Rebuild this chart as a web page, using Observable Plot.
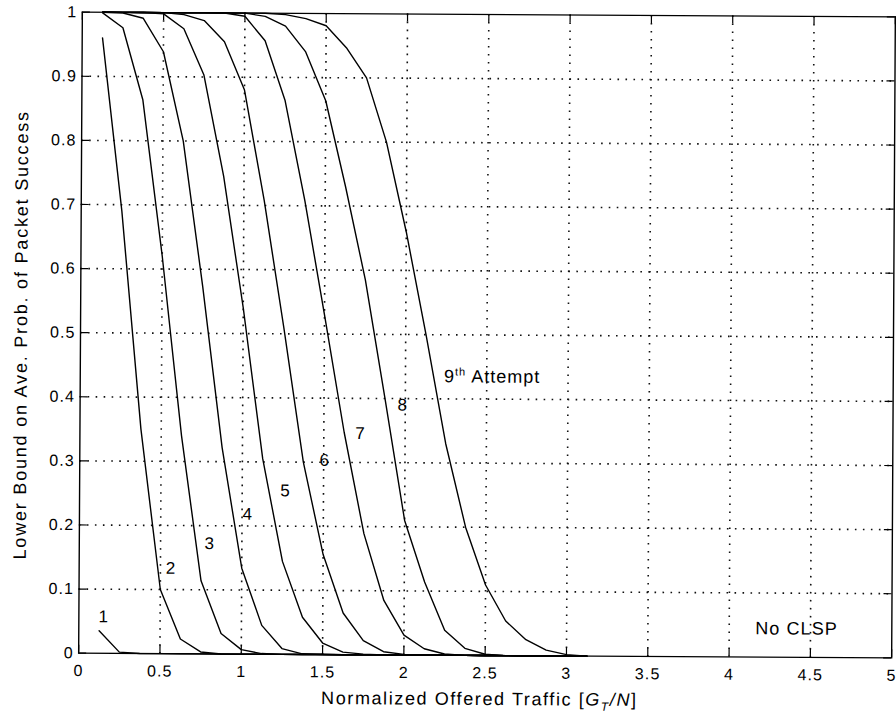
<!DOCTYPE html>
<html>
<head>
<meta charset="utf-8">
<script src="https://cdn.jsdelivr.net/npm/d3@7"></script>
<script src="https://cdn.jsdelivr.net/npm/@observablehq/plot@0.6"></script>
<style>
  html, body { margin: 0; padding: 0; background: #fff; }
  #chart { width: 896px; height: 717px; overflow: hidden; }
  #chart svg { transform: rotate(0.33deg); transform-origin: 486px 335px; }
</style>
</head>
<body>
<div id="chart"></div>
<script>
// Normalized offered traffic G_T/N at which each curve is sampled
const traffic = [0.125, 0.25, 0.375, 0.5, 0.625, 0.75, 0.875, 1, 1.125, 1.25, 1.375, 1.5, 1.625,
                 1.75, 1.875, 2, 2.125, 2.25, 2.375, 2.5, 2.625, 2.75, 2.875, 3, 3.125];

// Lower bound on average probability of packet success, one list per attempt
const attempt1 = [0.035, 0.002, 0, 0, 0, 0, 0, 0, 0, 0, 0, 0, 0, 0, 0, 0, 0, 0, 0, 0, 0, 0, 0, 0, 0];
const attempt2 = [0.96, 0.69, 0.35, 0.10, 0.023, 0.003, 0, 0, 0, 0, 0, 0, 0, 0, 0, 0, 0, 0, 0, 0, 0, 0, 0, 0, 0];
const attempt3 = [0.999, 0.976, 0.864, 0.62, 0.34, 0.114, 0.032, 0.007, 0.001, 0, 0, 0, 0, 0, 0, 0, 0, 0, 0, 0, 0, 0, 0, 0, 0];
const attempt4 = [1, 0.999, 0.991, 0.939, 0.80, 0.573, 0.322, 0.134, 0.045, 0.009, 0.001, 0, 0, 0, 0, 0, 0, 0, 0, 0, 0, 0, 0, 0, 0];
const attempt5 = [1, 1, 1, 0.998, 0.975, 0.903, 0.745, 0.54, 0.305, 0.145, 0.058, 0.018, 0.004, 0.001, 0, 0, 0, 0, 0, 0, 0, 0, 0, 0, 0];
const attempt6 = [1, 1, 1, 1, 0.997, 0.988, 0.955, 0.88, 0.708, 0.51, 0.30, 0.156, 0.065, 0.022, 0.005, 0.001, 0, 0, 0, 0, 0, 0, 0, 0, 0];
const attempt7 = [1, 1, 1, 1, 1, 1, 1, 0.995, 0.957, 0.864, 0.708, 0.53, 0.347, 0.189, 0.085, 0.031, 0.01, 0.002, 0, 0, 0, 0, 0, 0, 0];
const attempt8 = [1, 1, 1, 1, 1, 1, 1, 1, 0.995, 0.98, 0.94, 0.864, 0.73, 0.585, 0.40, 0.21, 0.114, 0.039, 0.011, 0.002, 0, 0, 0, 0, 0];
const attempt9 = [1, 1, 1, 1, 1, 1, 1, 1, 1, 0.998, 0.992, 0.981, 0.947, 0.90, 0.80, 0.66, 0.50, 0.33, 0.20, 0.11, 0.054, 0.025, 0.009, 0.002, 0];

// Curve annotations
const curveLabelText = ["1", "2", "3", "4", "5", "6", "7", "8"];
const curveLabelX = [0.154, 0.566, 0.803, 1.035, 1.266, 1.507, 1.726, 1.985];
const curveLabelY = [0.057, 0.133, 0.172, 0.218, 0.255, 0.303, 0.345, 0.390];
const noteText = ["No CLSP"];
const noteX = [4.16];
const noteY = [0.0445];

// Axis ticks
const xTicks = [0, 0.5, 1, 1.5, 2, 2.5, 3, 3.5, 4, 4.5, 5];
const xTickLabels = ["0", "0.5", "1", "1.5", "2", "2.5", "3", "3.5", "4", "4.5", "5"];
const yTicks = [0, 0.1, 0.2, 0.3, 0.4, 0.5, 0.6, 0.7, 0.8, 0.9, 1];
const yTickLabels = ["0", "0.1", "0.2", "0.3", "0.4", "0.5", "0.6", "0.7", "0.8", "0.9", "1"];

const series = [attempt1, attempt2, attempt3, attempt4, attempt5, attempt6, attempt7, attempt8, attempt9];
const rows = series.flatMap((vals, i) => vals.map((p, j) => ({attempt: i + 1, traffic: traffic[j], p})));
const curveLabels = curveLabelText.map((t, i) => ({t, x: curveLabelX[i], y: curveLabelY[i]}));
const notes = noteText.map((t, i) => ({t, x: noteX[i], y: noteY[i]}));

const W = 896, H = 717;
const margin = {top: 14, right: 3, bottom: 62, left: 80};
const frameW = W - margin.left - margin.right;
const frameH = H - margin.top - margin.bottom;
const tickLen = 8;
const FONT = "'Liberation Sans', Arial, Helvetica, sans-serif";

const grid = {stroke: "#111", strokeWidth: 1.6, strokeDasharray: "1.6,6.4"};
const ticks = {stroke: "#000", strokeWidth: 1.2};

const chart = Plot.plot({
  width: W,
  height: H,
  marginTop: margin.top,
  marginRight: margin.right,
  marginBottom: margin.bottom,
  marginLeft: margin.left,
  x: {domain: [0, 5], label: null},
  y: {domain: [0, 1], label: null},
  style: {fontFamily: FONT, fontSize: "16px", color: "#000", background: "#fff", overflow: "visible", letterSpacing: "1.1px"},
  marks: [
    Plot.ruleX(xTicks.slice(1, -1), {x: d => d, ...grid}),
    Plot.ruleY(yTicks.slice(1, -1), {y: d => d, ...grid}),
    Plot.tickX(xTicks, {x: d => d, insetTop: frameH - tickLen, ...ticks}),
    Plot.tickX(xTicks, {x: d => d, insetBottom: frameH - tickLen, ...ticks}),
    Plot.tickY(yTicks, {y: d => d, insetRight: frameW - tickLen, ...ticks}),
    Plot.tickY(yTicks, {y: d => d, insetLeft: frameW - tickLen, ...ticks}),
    Plot.axisX(xTicks, {tickSize: 0, tickPadding: 11.5, label: null, tickFormat: (d, i) => xTickLabels[i]}),
    Plot.axisY(yTicks, {tickSize: 0, tickPadding: 5, label: null, tickFormat: (d, i) => yTickLabels[i]}),
    Plot.line(rows, {x: "traffic", y: "p", z: "attempt", stroke: "#000", strokeWidth: 1.4, strokeLinejoin: "round"}),
    Plot.frame({stroke: "#000", strokeWidth: 1.4}),
    Plot.text(curveLabels, {x: "x", y: "y", text: "t", fontSize: 17, textAnchor: "middle", lineAnchor: "middle", fill: "#000"}),
    Plot.text(notes, {x: "x", y: "y", text: "t", fontSize: 18, textAnchor: "start", lineAnchor: "middle", fill: "#000"})
  ]
});

document.getElementById("chart").append(chart);

// Titles and the "9th Attempt" note need super/subscripts, so they are added as tspans
const svg = d3.select(chart);
const xs = chart.scale("x");
const ys = chart.scale("y");

const ninth = svg.append("text")
  .attr("x", xs.apply(2.24))
  .attr("y", ys.apply(0.425))
  .attr("text-anchor", "start")
  .attr("font-size", 18)
  .attr("letter-spacing", "1px")
  .attr("fill", "#000");
ninth.append("tspan").text("9");
ninth.append("tspan").attr("font-size", 11).attr("dy", -7).text("th");
ninth.append("tspan").attr("dy", 7).text(" Attempt");

const xTitle = svg.append("text")
  .attr("x", margin.left + frameW / 2 - 5)
  .attr("y", H - 12)
  .attr("text-anchor", "middle")
  .attr("font-size", 18)
  .attr("letter-spacing", "1.6px")
  .attr("fill", "#000");
xTitle.append("tspan").text("Normalized Offered Traffic [");
xTitle.append("tspan").attr("font-style", "italic").text("G");
xTitle.append("tspan").attr("font-style", "italic").attr("font-size", 12).attr("dy", 5).text("T");
xTitle.append("tspan").attr("font-style", "italic").attr("dy", -5).text("/N");
xTitle.append("tspan").text("]");

svg.append("text")
  .attr("transform", `translate(27,${margin.top + frameH / 2 + 3}) rotate(-90)`)
  .attr("text-anchor", "middle")
  .attr("font-size", 18)
  .attr("letter-spacing", "1.8px")
  .attr("fill", "#000")
  .text("Lower Bound on Ave. Prob. of Packet Success");
</script>
</body>
</html>
